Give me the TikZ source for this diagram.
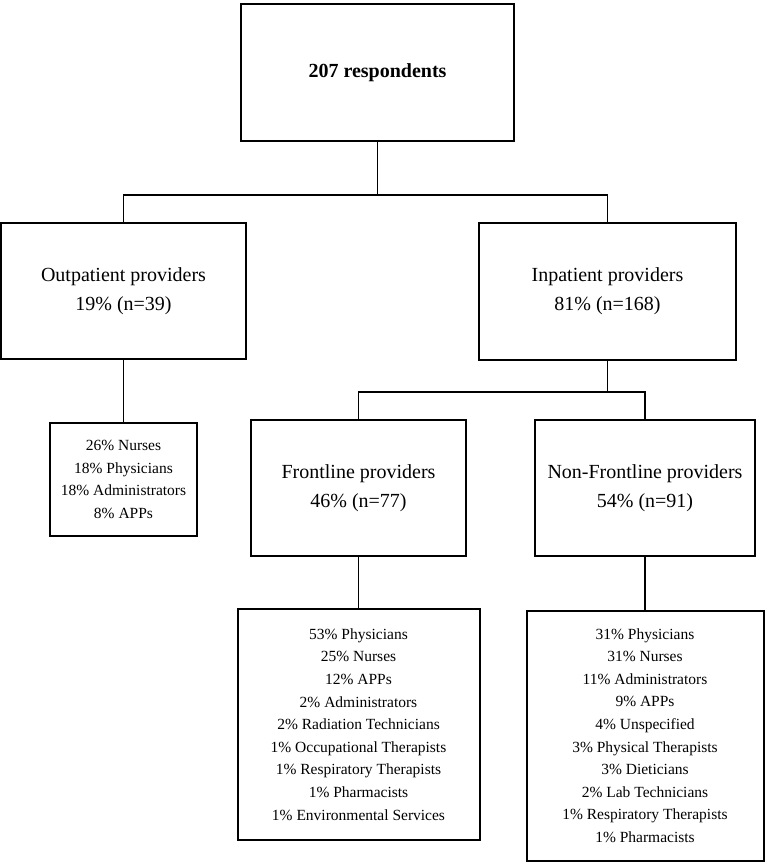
\documentclass[tikz,border=0pt]{standalone}
\usepackage{fontspec}
\setmainfont{Liberation Serif}
\usepackage{tikz}
\tikzset{
box/.style={draw, line width=2pt, align=center, inner sep=0pt},
big/.style={box, font=\fontsize{20}{29}\selectfont},
small/.style={box, font=\fontsize{15.5}{22.6}\selectfont}
}
\begin{document}
\begin{tikzpicture}[x=1pt,y=-1pt,line width=1.6pt]
\useasboundingbox (0,0) rectangle (765,862);
\node[big, minimum width=273, minimum height=137] at (377.5,72.5) (root) {\textbf{207 respondents}};
\node[big, minimum width=245, minimum height=136] at (123.5,291) (outp) {Outpatient providers\\19\% (n=39)};
\node[big, minimum width=257, minimum height=137] at (607.5,291.5) (inp) {Inpatient providers\\81\% (n=168)};
\node[small, minimum width=147, minimum height=113] at (123.5,479.5) (outlist) {26\% Nurses\\18\% Physicians\\18\% Administrators\\8\% APPs};
\node[big, minimum width=215, minimum height=136] at (358.5,488) (front) {Frontline providers\\46\% (n=77)};
\node[big, minimum width=220, minimum height=136] at (645,488) (nonfront) {Non-Frontline providers\\54\% (n=91)};
\node[small, minimum width=242, minimum height=231] at (358.5,724.5) (frontlist) {53\% Physicians\\25\% Nurses\\12\% APPs\\2\% Administrators\\2\% Radiation Technicians\\1\% Occupational Therapists\\1\% Respiratory Therapists\\1\% Pharmacists\\1\% Environmental Services};
\node[small, minimum width=237, minimum height=250] at (645,735.5) (nonfrontlist) {31\% Physicians\\31\% Nurses\\11\% Administrators\\9\% APPs\\4\% Unspecified\\3\% Physical Therapists\\3\% Dieticians\\2\% Lab Technicians\\1\% Respiratory Therapists\\1\% Pharmacists};
\coordinate (j1) at (377.5,195);
\coordinate (j2) at (607.5,392);
\draw (root.south) -- (j1);
\draw (outp.north) |- (j1) -| (inp.north);
\draw (outp.south) -- (outlist.north);
\draw (inp.south) -- (j2);
\draw (front.north) |- (j2) -| (nonfront.north);
\draw (front.south) -- (frontlist.north);
\draw (nonfront.south) -- (nonfrontlist.north);
\end{tikzpicture}
\end{document}
